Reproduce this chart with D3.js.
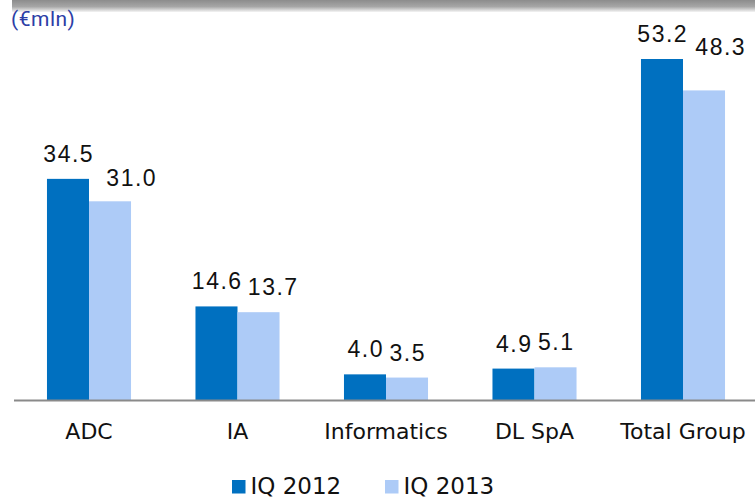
<!DOCTYPE html>
<html>
<head>
<meta charset="utf-8">
<script src="https://cdn.jsdelivr.net/npm/d3@7"></script>
<style>
  body { margin: 0; background: #fff; }
  svg { display: block; }
</style>
</head>
<body>
<script>
// chart data
var categories = ["ADC", "IA", "Informatics", "DL SpA", "Total Group"];
var seriesNames = ["IQ 2012", "IQ 2013"];
var values2012 = [34.5, 14.6, 4.0, 4.9, 53.2];
var values2013 = [31.0, 13.7, 3.5, 5.1, 48.3];
var colors = ["#0070C0", "#ADCBF7"];

// hand-placed nudges for the IQ 2013 value labels (as in the original slide)
var nudge2013 = [[21, 2], [14, 0], [0, 0], [0, 0], [16, -18]];

var width = 755, height = 497;
var baseY = 400;

var svg = d3.select("body").append("svg")
  .attr("width", width)
  .attr("height", height);

// grey header strip at the top
var defs = svg.append("defs");
var grad = defs.append("linearGradient").attr("id", "topbar")
  .attr("x1", 0).attr("y1", 0).attr("x2", 0).attr("y2", 1);
grad.append("stop").attr("offset", "0%").attr("stop-color", "#8c8c8c");
grad.append("stop").attr("offset", "55%").attr("stop-color", "#a6a6a6");
grad.append("stop").attr("offset", "100%").attr("stop-color", "#f4f4f4");
svg.append("rect")
  .attr("x", 12).attr("y", 0)
  .attr("width", width - 12).attr("height", 12)
  .attr("fill", "url(#topbar)");

svg.append("text")
  .attr("x", 11).attr("y", 26)
  .attr("font-family", "Roboto, 'Liberation Sans', sans-serif")
  .attr("font-size", 21)
  .attr("letter-spacing", 0.5)
  .attr("fill", "#2c3ea6")
  .text("(€mln)");

var x0 = d3.scaleBand()
  .domain(categories)
  .range([14.75, 757.25])
  .paddingInner(0.434)
  .paddingOuter(0.217);

var x1 = d3.scaleBand()
  .domain(seriesNames)
  .range([0, x0.bandwidth()]);

var y = d3.scaleLinear()
  .domain([0, 53.2])
  .range([baseY, 59]);

var rows = categories.map(function (c, i) {
  return { cat: c, i: i, vals: [values2012[i], values2013[i]] };
});

var groups = svg.selectAll("g.grp")
  .data(rows)
  .enter().append("g")
  .attr("class", "grp")
  .attr("transform", function (d) { return "translate(" + x0(d.cat) + ",0)"; });

var bars = groups.selectAll("rect")
  .data(function (d) { return d.vals.map(function (v, k) { return { i: d.i, k: k, v: v }; }); })
  .enter();

bars.append("rect")
  .attr("x", function (d) { return x1(seriesNames[d.k]); })
  .attr("y", function (d) { return y(d.v); })
  .attr("width", x1.bandwidth())
  .attr("height", function (d) { return baseY - y(d.v); })
  .attr("fill", function (d) { return colors[d.k]; });

function nudge(d) { return d.k === 1 ? nudge2013[d.i] : [0, 0]; }

bars.append("text")
  .attr("x", function (d) { return x1(seriesNames[d.k]) + x1.bandwidth() / 2 + nudge(d)[0]; })
  .attr("y", function (d) { return y(d.v) - 17 + nudge(d)[1]; })
  .attr("dx", 0.75) // letter-spacing adds a trailing gap, shift back
  .attr("text-anchor", "middle")
  .attr("font-family", "'Liberation Sans', Arial, sans-serif")
  .attr("font-size", 23)
  .attr("letter-spacing", 1.5)
  .attr("fill", "#111")
  .text(function (d) { return d.v.toFixed(1); });

// axis line and category labels
var xAxis = d3.axisBottom(x0).tickSize(0).tickPadding(23.5);
var axisG = svg.append("g")
  .attr("transform", "translate(0," + baseY + ")")
  .call(xAxis);
axisG.select(".domain").remove();
axisG.append("line")
  .attr("x1", 14).attr("x2", width)
  .attr("y1", 0.5).attr("y2", 0.5)
  .attr("stroke", "#8a8a8a").attr("stroke-width", 2);
axisG.selectAll(".tick text")
  .attr("font-family", "'DejaVu Sans', Verdana, sans-serif")
  .attr("font-size", 22)
  .attr("fill", "#111");

// legend
var legend = svg.append("g");
var legX = [232, 385];
seriesNames.forEach(function (s, i) {
  legend.append("rect")
    .attr("x", legX[i]).attr("y", 480)
    .attr("width", 13.5).attr("height", 13.5)
    .attr("fill", colors[i]);
  legend.append("text")
    .attr("x", legX[i] + 18.5).attr("y", 493.5)
    .attr("font-family", "'DejaVu Sans', Verdana, sans-serif")
    .attr("font-size", 23)
    .attr("fill", "#111")
    .text(s);
});
</script>
</body>
</html>
